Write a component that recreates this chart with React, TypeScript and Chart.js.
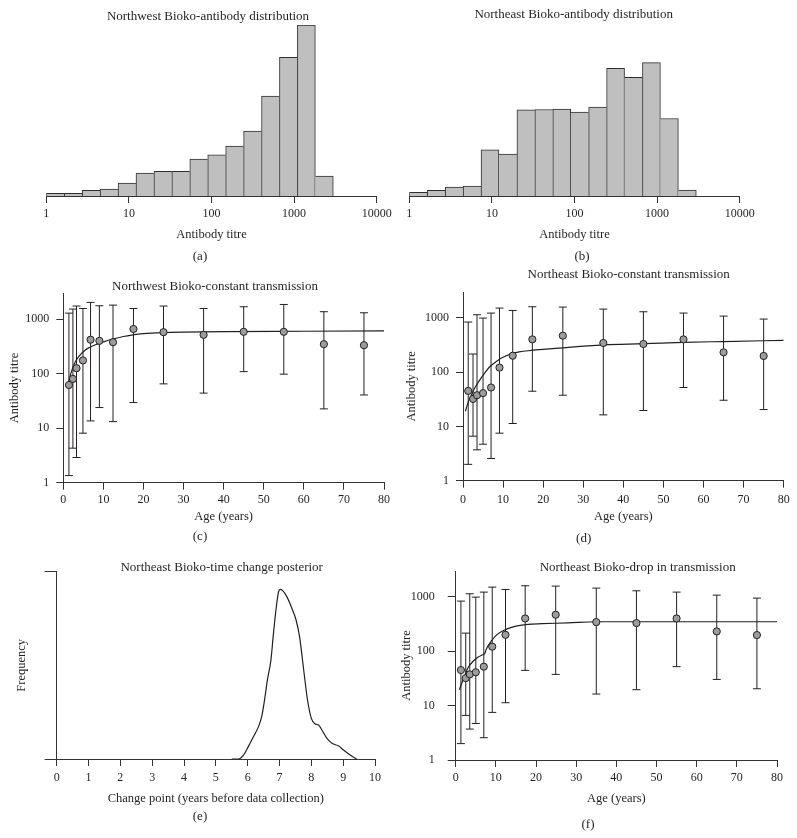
import React, { useEffect, useRef } from 'react';
import { Chart, registerables } from 'chart.js';

Chart.register(...registerables);

// ---------------- data ----------------
// Histogram bins (natural-log width 0.5, from e^0 to e^8)
const BIN_EDGES = [1, 1.649, 2.718, 4.482, 7.389, 12.18, 20.09, 33.12, 54.6, 90.02, 148.4, 244.7, 403.4, 665.1, 1096.6, 1808, 2981];
const NW_FREQ = [8, 8, 17, 21, 39, 69, 74, 74, 111, 124, 150, 195, 300, 417, 514, 60];
const NE_FREQ = [11, 17, 27, 30, 139, 126, 259, 260, 261, 252, 267, 384, 357, 401, 233, 18];
const HIST_YMAX = 514;
const TITRE_TICKS = [1, 10, 100, 1000, 10000];

// Northwest age profile
const NW_AGE = [1.4, 2.4, 3.3, 4.9, 6.8, 9.0, 12.4, 17.5, 25, 35, 45, 55, 65, 75];
const NW_MEAN = [62, 80, 126, 175, 420, 400, 378, 660, 577, 516, 586, 586, 348, 333];
const NW_HI = [1290, 1530, 1740, 1570, 2030, 1760, 1810, 1570, 1740, 1570, 1690, 1860, 1370, 1310];
const NW_LO = [1.35, 4.3, 2.9, 8.1, 13.6, 23.9, 13.2, 29.5, 65, 44, 109, 98, 22.6, 40.7];
const NW_FIT_AGE = [1.2, 1.5, 2, 3, 4, 5, 6, 8, 10, 12, 15, 17, 20, 25, 30, 40, 60, 80];
const NW_FIT = [62, 78, 108, 165, 213, 253, 288, 340, 382, 425, 480, 510, 542, 568, 580, 592, 600, 608];

// Northeast age profile
const NE_AGE = [1.3, 2.5, 3.5, 5.0, 7.0, 9.1, 12.4, 17.3, 24.9, 35, 45, 55, 65, 75];
const NE_MEAN = [45, 32, 37.5, 41, 52, 121, 200, 400, 468, 343, 329, 400, 231, 198];
const NE_HI = [834, 215, 1137, 987, 1220, 1507, 1364, 1595, 1573, 1445, 1290, 1220, 1073, 946];
const NE_LO = [2.0, 6.6, 3.7, 4.7, 2.57, 7.5, 11.3, 44.4, 37.5, 16.3, 19.6, 52, 30.3, 20.4];
const NE_CONST_FIT_AGE = [0.6, 1.3, 2.1, 3, 4.2, 5.5, 6.6, 8, 9.1, 10.5, 12, 14, 17, 20, 25, 30, 35, 45, 55, 65, 80];
const NE_CONST_FIT = [19, 28, 38, 52, 72, 98, 124, 150, 173, 195, 217, 235, 250, 262, 280, 300, 318, 333, 352, 365, 384];
const NE_DROP_FIT_AGE = [0.9, 1.9, 3.1, 4.4, 5.6, 6.7, 7.2, 7.7, 9.0, 10.2, 11.9, 13.9, 16, 18, 21.5, 28, 35, 80];
const NE_DROP_FIT = [19.5, 30.5, 50, 66, 78, 86, 90, 112, 158, 200, 240, 275, 298, 312, 320, 332, 348, 348];
const AGE_YMAX = 2981;
const LOG_Y_TICKS = [1, 10, 100, 1000];

// Change point posterior
const CP_X = [5.5, 5.71, 5.87, 6.02, 6.18, 6.34, 6.44, 6.53, 6.62, 6.73, 6.81, 6.9, 6.97, 7.02, 7.1, 7.23, 7.39, 7.52, 7.63, 7.76, 7.88, 8.0, 8.12, 8.23, 8.33, 8.49, 8.65, 8.86, 9.01, 9.22, 9.38, 9.43];
const CP_DENS = [0, 0, 0.021, 0.066, 0.119, 0.173, 0.226, 0.315, 0.422, 0.528, 0.671, 0.813, 0.893, 0.906, 0.899, 0.867, 0.804, 0.742, 0.653, 0.475, 0.315, 0.217, 0.187, 0.181, 0.155, 0.11, 0.084, 0.069, 0.048, 0.021, 0.004, 0];
const CP_YTICKS = [0, 1];

// ---------------- styles ----------------
const FONT = "'Liberation Serif', 'Times New Roman', serif";
const INK = '#231f20';
const AXIS = '#333333';
const BAR_FILL = '#bfbfbf';
const BAR_EDGE = '#2e2e2e';
const MARKER_FILL = '#9c9c9c';
const TICK_FONT = { family: FONT, size: 12 };
const LABEL_FONT = { family: FONT, size: 12.5 };

type Box = { L: number; T: number; W: number; H: number };
type Area = { l: number; r: number; t: number; b: number };

function frame(box: Box, area: Area, xTitleY: number, yTitleX?: number) {
  const half = 7.5;
  const xHeight = xTitleY + half - area.b;
  const yLeft = yTitleX === undefined ? area.l : yTitleX - half;
  return {
    padding: {
      top: area.t - box.T,
      left: yLeft - box.L,
      right: box.L + box.W - area.r,
      bottom: box.T + box.H - area.b - xHeight,
    },
    xHeight,
    yWidth: area.l - yLeft,
  };
}

const fixedTicks = (vals: number[]) => (s: any) => {
  s.ticks = vals.map((value) => ({ value }));
};

function axis(tickLength: number, tickPad: number, title: string | null, extra: any) {
  return {
    border: { display: true, color: AXIS, width: 1 },
    grid: {
      display: true,
      drawOnChartArea: false,
      drawTicks: true,
      tickLength,
      color: AXIS,
      tickColor: AXIS,
      tickWidth: 1,
      offset: false,
    },
    offset: false,
    title: title
      ? { display: true, text: title, color: INK, font: LABEL_FONT, padding: 0 }
      : { display: false },
    ...extra,
    ticks: {
      color: INK,
      font: TICK_FONT,
      padding: tickPad,
      maxRotation: 0,
      minRotation: 0,
      autoSkip: false,
      ...(extra.ticks || {}),
    },
  };
}

function baseOptions(f: any) {
  return {
    responsive: false,
    animation: false,
    devicePixelRatio: 1,
    events: [],
    layout: { padding: f.padding },
    plugins: {
      legend: { display: false },
      tooltip: { enabled: false },
      title: { display: false },
    },
  };
}

function makeErrorBars(xs: number[], lo: number[], hi: number[]) {
  return {
    id: 'errorBars',
    beforeDatasetsDraw(chart: any) {
      const { ctx, scales } = chart;
      const sx = scales.x;
      const sy = scales.y;
      const cap = 4;
      ctx.save();
      ctx.strokeStyle = INK;
      ctx.lineWidth = 1;
      xs.forEach((a, i) => {
        const px = sx.getPixelForValue(a);
        const top = sy.getPixelForValue(hi[i]);
        const bot = sy.getPixelForValue(lo[i]);
        ctx.beginPath();
        ctx.moveTo(px, top);
        ctx.lineTo(px, bot);
        ctx.moveTo(px - cap, top);
        ctx.lineTo(px + cap, top);
        ctx.moveTo(px - cap, bot);
        ctx.lineTo(px + cap, bot);
        ctx.stroke();
      });
      ctx.restore();
    },
  };
}

const BIN_CENTERS = BIN_EDGES.slice(0, -1).map((e, i) => Math.sqrt(e * BIN_EDGES[i + 1]));

function histConfig(f: any, freq: number[]) {
  return {
    type: 'bar',
    data: {
      datasets: [
        {
          data: freq.map((v, i) => ({ x: BIN_CENTERS[i], y: v })),
          backgroundColor: BAR_FILL,
          borderColor: BAR_EDGE,
          borderSkipped: false,
          borderWidth: (c: any) => {
            const i = c.dataIndex;
            if (i === undefined) return 1;
            const left = i === 0 || freq[i] >= freq[i - 1] ? 1 : 0;
            const right = i === freq.length - 1 || freq[i] > freq[i + 1] ? 1 : 0;
            return { top: 1, bottom: 0, left, right };
          },
          barPercentage: 1,
          categoryPercentage: 1,
          grouped: false,
        },
      ],
    },
    options: {
      ...baseOptions(f),
      scales: {
        x: axis(7, 4, 'Antibody titre', {
          type: 'logarithmic',
          min: 1,
          max: 10000,
          afterBuildTicks: fixedTicks(TITRE_TICKS),
          afterFit: (s: any) => {
            s.height = f.xHeight;
          },
          ticks: { callback: (v: number) => String(v) },
        }),
        y: { display: false, min: 0, max: HIST_YMAX },
      },
    },
  };
}

function ageConfig(
  f: any,
  fitX: number[],
  fitY: number[],
  ages: number[],
  mean: number[],
  lo: number[],
  hi: number[],
  pads: { xPad: number; yTick: number; yPad: number }
) {
  return {
    type: 'line',
    data: {
      datasets: [
        {
          data: ages.map((x, i) => ({ x, y: mean[i] })),
          showLine: false,
          pointRadius: 3.6,
          pointBackgroundColor: MARKER_FILL,
          pointBorderColor: INK,
          pointBorderWidth: 1,
          order: 0,
        },
        {
          data: fitX.map((x, i) => ({ x, y: fitY[i] })),
          borderColor: INK,
          borderWidth: 1.2,
          pointRadius: 0,
          cubicInterpolationMode: 'monotone',
          fill: false,
          order: 1,
        },
      ],
    },
    options: {
      ...baseOptions(f),
      scales: {
        x: axis(7, pads.xPad, 'Age (years)', {
          type: 'linear',
          min: 0,
          max: 80,
          afterFit: (s: any) => {
            s.height = f.xHeight;
          },
          ticks: { stepSize: 10 },
        }),
        y: axis(pads.yTick, pads.yPad, 'Antibody titre', {
          type: 'logarithmic',
          min: 1,
          max: AGE_YMAX,
          afterBuildTicks: fixedTicks(LOG_Y_TICKS),
          afterFit: (s: any) => {
            s.width = f.yWidth;
          },
          ticks: { callback: (v: number) => String(v) },
        }),
      },
    },
    plugins: [makeErrorBars(ages, lo, hi)],
  };
}

function posteriorConfig(f: any) {
  return {
    type: 'line',
    data: {
      datasets: [
        {
          data: CP_X.map((x, i) => ({ x, y: CP_DENS[i] })),
          borderColor: INK,
          borderWidth: 1.2,
          pointRadius: 0,
          cubicInterpolationMode: 'monotone',
          fill: false,
        },
      ],
    },
    options: {
      ...baseOptions(f),
      scales: {
        x: axis(7, 5, 'Change point (years before data collection)', {
          type: 'linear',
          min: 0,
          max: 10,
          afterFit: (s: any) => {
            s.height = f.xHeight;
          },
          ticks: { stepSize: 1 },
        }),
        y: axis(12, 0, 'Frequency', {
          type: 'linear',
          min: 0,
          max: 1,
          afterBuildTicks: fixedTicks(CP_YTICKS),
          afterFit: (s: any) => {
            s.width = f.yWidth;
          },
          ticks: { display: false },
        }),
      },
    },
  };
}

function ChartCanvas({ box, make }: { box: Box; make: () => any }) {
  const ref = useRef<HTMLCanvasElement>(null);
  useEffect(() => {
    const chart = new Chart(ref.current as HTMLCanvasElement, make());
    return () => chart.destroy();
  }, []);
  return (
    <canvas
      ref={ref}
      width={box.W}
      height={box.H}
      style={{ position: 'absolute', left: box.L, top: box.T, width: box.W, height: box.H }}
    />
  );
}

function Label({ x, y, text, size = 13 }: { x: number; y: number; text: string; size?: number }) {
  return (
    <div
      style={{
        position: 'absolute',
        left: x,
        top: y,
        transform: 'translate(-50%, -50%)',
        whiteSpace: 'nowrap',
        lineHeight: 1,
        fontSize: size,
        fontFamily: FONT,
        color: INK,
      }}
    >
      {text}
    </div>
  );
}

const BOX_A: Box = { L: 0, T: 0, W: 398, H: 262 };
const BOX_B: Box = { L: 398, T: 0, W: 399, H: 262 };
const BOX_C: Box = { L: 0, T: 262, W: 398, H: 278 };
const BOX_D: Box = { L: 398, T: 262, W: 399, H: 278 };
const BOX_E: Box = { L: 0, T: 540, W: 398, H: 298 };
const BOX_F: Box = { L: 398, T: 540, W: 399, H: 298 };

const F_A = frame(BOX_A, { l: 46.3, r: 376.7, t: 25, b: 196 }, 235);
const F_B = frame(BOX_B, { l: 409.3, r: 739.7, t: 25, b: 196 }, 235);
const F_C = frame(BOX_C, { l: 63.3, r: 384, t: 293.3, b: 482.7 }, 516.7, 15);
const F_D = frame(BOX_D, { l: 463, r: 783.7, t: 292, b: 480.7 }, 516.7, 412);
const F_E = frame(BOX_E, { l: 56.7, r: 375, t: 571.7, b: 759 }, 798.3, 21.7);
const F_F = frame(BOX_F, { l: 455.7, r: 777, t: 571, b: 760 }, 798.3, 406.3);

export default function App() {
  return (
    <div
      style={{
        position: 'absolute',
        left: 0,
        top: 0,
        width: 797,
        height: 838,
        background: '#ffffff',
        overflow: 'hidden',
      }}
    >
      <ChartCanvas box={BOX_A} make={() => histConfig(F_A, NW_FREQ)} />
      <ChartCanvas box={BOX_B} make={() => histConfig(F_B, NE_FREQ)} />
      <ChartCanvas
        box={BOX_C}
        make={() =>
          ageConfig(F_C, NW_FIT_AGE, NW_FIT, NW_AGE, NW_MEAN, NW_LO, NW_HI, { xPad: 3, yTick: 7, yPad: 7 })
        }
      />
      <ChartCanvas
        box={BOX_D}
        make={() =>
          ageConfig(F_D, NE_CONST_FIT_AGE, NE_CONST_FIT, NE_AGE, NE_MEAN, NE_LO, NE_HI, { xPad: 5, yTick: 7, yPad: 7 })
        }
      />
      <ChartCanvas box={BOX_E} make={() => posteriorConfig(F_E)} />
      <ChartCanvas
        box={BOX_F}
        make={() =>
          ageConfig(F_F, NE_DROP_FIT_AGE, NE_DROP_FIT, NE_AGE, NE_MEAN, NE_LO, NE_HI, { xPad: 4, yTick: 8, yPad: 13 })
        }
      />

      <Label x={208} y={15} text="Northwest Bioko-antibody distribution" />
      <Label x={573.7} y={13.3} text="Northeast Bioko-antibody distribution" />
      <Label x={215} y={285} text="Northwest Bioko-constant transmission" />
      <Label x={628.7} y={273.3} text="Northeast Bioko-constant transmission" />
      <Label x={221.7} y={566} text="Northeast Bioko-time change posterior" />
      <Label x={637.7} y={565.7} text="Northeast Bioko-drop in transmission" />

      <Label x={200} y={255} text="(a)" />
      <Label x={582} y={255} text="(b)" />
      <Label x={200} y={535} text="(c)" />
      <Label x={583.7} y={537.3} text="(d)" />
      <Label x={200} y={815} text="(e)" />
      <Label x={588} y={823} text="(f)" />
    </div>
  );
}
